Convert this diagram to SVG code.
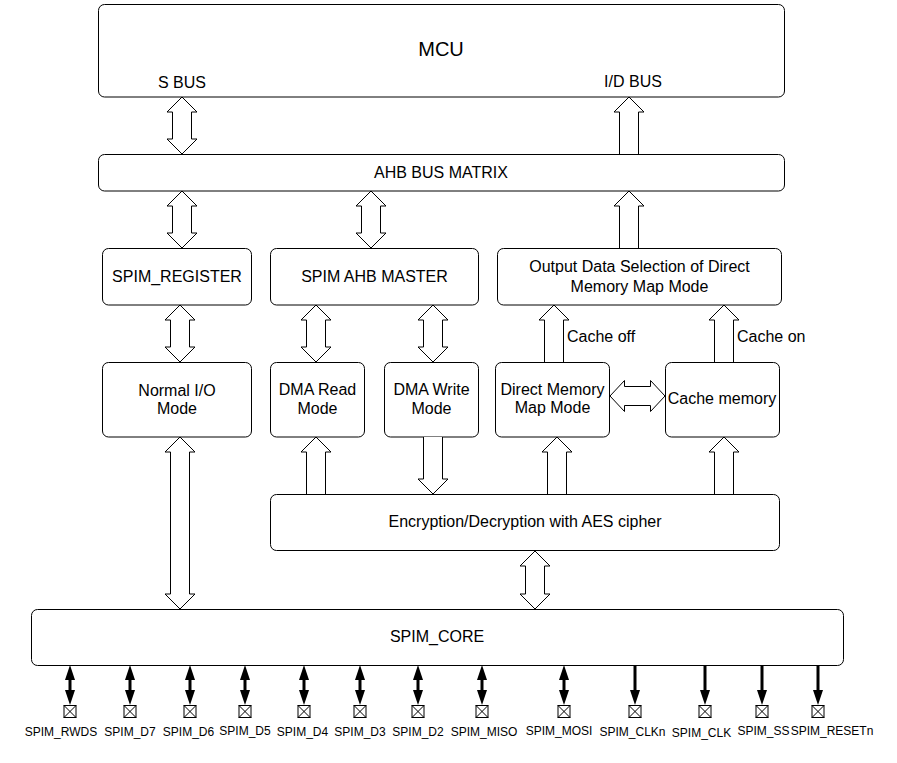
<svg xmlns="http://www.w3.org/2000/svg" width="897" height="763" viewBox="0 0 897 763">
<style>
  .box { fill: #fff; stroke: #000; stroke-width: 1; }
  .t { font-family: "Liberation Sans", Arial, sans-serif; font-size: 16px; fill: #000; text-anchor: middle; }
  .ts { font-family: "Liberation Sans", Arial, sans-serif; font-size: 16px; fill: #000; }
  .big { font-size: 20px; }
  .pl { font-family: "Liberation Sans", Arial, sans-serif; font-size: 12px; fill: #000; text-anchor: middle; }
  .ar { fill: #fff; stroke: #000; stroke-width: 1; stroke-linejoin: miter; }
  .pin { stroke: #000; stroke-width: 3; fill: none; }
  .pad { fill: #fff; stroke: #000; stroke-width: 1; }
</style>
<defs>
  <marker id="ah" markerWidth="15" markerHeight="10" refX="0" refY="5" viewBox="0 0 15 10" orient="auto-start-reverse" markerUnits="userSpaceOnUse">
    <path d="M0 0 L15 5 L0 10 Z" fill="#000"/>
  </marker>
  <g id="padshape">
    <rect class="pad" x="-6" y="0" width="12" height="12"/>
    <path d="M-6 0 L6 12 M6 0 L-6 12" stroke="#000" stroke-width="1"/>
  </g>
</defs>
<rect width="897" height="763" fill="#fff"/>

<g id="mcu">
  <rect class="box" x="98.5" y="4.5" width="686" height="92.5" rx="6"/>
  <text class="t big" x="441" y="56">MCU</text>
  <text class="t" x="182" y="88">S BUS</text>
  <text class="t" x="633" y="87">I/D BUS</text>
</g>
<g id="ahb">
  <rect class="box" x="98.5" y="154.5" width="686" height="36.5" rx="6"/>
  <text class="t" x="441" y="178">AHB BUS MATRIX</text>
</g>
<g id="spim_register">
  <rect class="box" x="102.5" y="248.5" width="149" height="56.5" rx="6"/>
  <text class="t" x="177" y="281.5">SPIM_REGISTER</text>
</g>
<g id="spim_ahb_master">
  <rect class="box" x="270.5" y="248.5" width="208" height="56.5" rx="6"/>
  <text class="t" x="374.5" y="281.5">SPIM AHB MASTER</text>
</g>
<g id="output_sel">
  <rect class="box" x="497.5" y="248.5" width="284" height="56.5" rx="6"/>
  <text class="t" x="639.5" y="272">Output Data Selection of Direct</text>
  <text class="t" x="639.5" y="292">Memory Map Mode</text>
</g>
<g id="normal_io">
  <rect class="box" x="102.5" y="362.5" width="149" height="74.5" rx="6"/>
  <text class="t" x="177" y="395.5">Normal I/O</text>
  <text class="t" x="177" y="414">Mode</text>
</g>
<g id="dma_read">
  <rect class="box" x="270.5" y="362.5" width="94" height="74.5" rx="6"/>
  <text class="t" x="317.5" y="395">DMA Read</text>
  <text class="t" x="317.5" y="414">Mode</text>
</g>
<g id="dma_write">
  <rect class="box" x="384.5" y="362.5" width="94" height="74.5" rx="6"/>
  <text class="t" x="431.5" y="395">DMA Write</text>
  <text class="t" x="431.5" y="414">Mode</text>
</g>
<g id="direct_mm">
  <rect class="box" x="495.5" y="362.5" width="114" height="74.5" rx="6"/>
  <text class="t" x="552.5" y="394.5">Direct Memory</text>
  <text class="t" x="552.5" y="413">Map Mode</text>
</g>
<g id="cache_mem">
  <rect class="box" x="665.5" y="362.5" width="114" height="74.5" rx="6"/>
  <text class="t" x="722" y="403.5">Cache memory</text>
</g>
<g id="aes">
  <rect class="box" x="270.5" y="494.5" width="509" height="56" rx="6"/>
  <text class="t" x="525" y="526.5">Encryption/Decryption with AES cipher</text>
</g>
<g id="spim_core">
  <rect class="box" x="31.5" y="609.5" width="812" height="56" rx="6"/>
  <text class="t" x="437" y="641.5">SPIM_CORE</text>
</g>

<g id="connectors">
  <path class="ar" d="M182 97 L197 112 L191.5 112 L191.5 139 L197 139 L182 154 L167 139 L172.5 139 L172.5 112 L167 112 Z"/>
  <path class="ar" d="M619.5 154 L619.5 112 L614 112 L629 97 L644 112 L638.5 112 L638.5 154"/>
  <path class="ar" d="M182 191 L197 206 L191.5 206 L191.5 233 L197 233 L182 248 L167 233 L172.5 233 L172.5 206 L167 206 Z"/>
  <path class="ar" d="M371 191 L386 206 L380.5 206 L380.5 233 L386 233 L371 248 L356 233 L361.5 233 L361.5 206 L356 206 Z"/>
  <path class="ar" d="M619.5 248 L619.5 206 L614 206 L629 191 L644 206 L638.5 206 L638.5 248"/>
  <path class="ar" d="M180 305 L195 320 L189.5 320 L189.5 347 L195 347 L180 362 L165 347 L170.5 347 L170.5 320 L165 320 Z"/>
  <path class="ar" d="M316 305 L331 320 L325.5 320 L325.5 347 L331 347 L316 362 L301 347 L306.5 347 L306.5 320 L301 320 Z"/>
  <path class="ar" d="M433 305 L448 320 L442.5 320 L442.5 347 L448 347 L433 362 L418 347 L423.5 347 L423.5 320 L418 320 Z"/>
  <path class="ar" d="M544.5 362 L544.5 320 L539 320 L554 305 L569 320 L563.5 320 L563.5 362"/>
  <text class="ts" x="567" y="341.5">Cache off</text>
  <path class="ar" d="M714.5 362 L714.5 320 L709 320 L724 305 L739 320 L733.5 320 L733.5 362"/>
  <text class="ts" x="737" y="341.5">Cache on</text>
  <path class="ar" d="M610 396 L624.5 380.5 L624.5 386.5 L650.5 386.5 L650.5 380.5 L665 396 L650.5 411.5 L650.5 405.5 L624.5 405.5 L624.5 411.5 Z"/>
  <path class="ar" d="M306.5 494 L306.5 452 L301 452 L316 437 L331 452 L325.5 452 L325.5 494"/>
  <path class="ar" d="M423.5 437 L423.5 479 L418 479 L433 494 L448 479 L442.5 479 L442.5 437"/>
  <path class="ar" d="M547.5 494 L547.5 452 L542 452 L557 437 L572 452 L566.5 452 L566.5 494"/>
  <path class="ar" d="M714.5 494 L714.5 452 L709 452 L724 437 L739 452 L733.5 452 L733.5 494"/>
  <path class="ar" d="M180 437 L195 452 L189.5 452 L189.5 594 L195 594 L180 609 L165 594 L170.5 594 L170.5 452 L165 452 Z"/>
  <path class="ar" d="M535 551 L550 566 L544.5 566 L544.5 594 L550 594 L535 609 L520 594 L525.5 594 L525.5 566 L520 566 Z"/>
</g>

<g id="pins">
  <g id="pin_rwds">
    <line class="pin" x1="70" y1="680" x2="70" y2="690" marker-start="url(#ah)" marker-end="url(#ah)"/>
    <use href="#padshape" x="70" y="705.5"/>
    <text class="pl" x="61" y="736">SPIM_RWDS</text>
  </g>
  <g id="pin_d7">
    <line class="pin" x1="130" y1="680" x2="130" y2="690" marker-start="url(#ah)" marker-end="url(#ah)"/>
    <use href="#padshape" x="130" y="705.5"/>
    <text class="pl" x="130" y="736">SPIM_D7</text>
  </g>
  <g id="pin_d6">
    <line class="pin" x1="190" y1="680" x2="190" y2="690" marker-start="url(#ah)" marker-end="url(#ah)"/>
    <use href="#padshape" x="190" y="705.5"/>
    <text class="pl" x="188.5" y="736">SPIM_D6</text>
  </g>
  <g id="pin_d5">
    <line class="pin" x1="245" y1="680" x2="245" y2="690" marker-start="url(#ah)" marker-end="url(#ah)"/>
    <use href="#padshape" x="245" y="705.5"/>
    <text class="pl" x="245" y="735">SPIM_D5</text>
  </g>
  <g id="pin_d4">
    <line class="pin" x1="304" y1="680" x2="304" y2="690" marker-start="url(#ah)" marker-end="url(#ah)"/>
    <use href="#padshape" x="304" y="705.5"/>
    <text class="pl" x="302.5" y="736">SPIM_D4</text>
  </g>
  <g id="pin_d3">
    <line class="pin" x1="360" y1="680" x2="360" y2="690" marker-start="url(#ah)" marker-end="url(#ah)"/>
    <use href="#padshape" x="360" y="705.5"/>
    <text class="pl" x="360" y="736">SPIM_D3</text>
  </g>
  <g id="pin_d2">
    <line class="pin" x1="418" y1="680" x2="418" y2="690" marker-start="url(#ah)" marker-end="url(#ah)"/>
    <use href="#padshape" x="418" y="705.5"/>
    <text class="pl" x="418" y="736">SPIM_D2</text>
  </g>
  <g id="pin_miso">
    <line class="pin" x1="482" y1="680" x2="482" y2="690" marker-start="url(#ah)" marker-end="url(#ah)"/>
    <use href="#padshape" x="482" y="705.5"/>
    <text class="pl" x="484" y="736">SPIM_MISO</text>
  </g>
  <g id="pin_mosi">
    <line class="pin" x1="564" y1="680" x2="564" y2="690" marker-start="url(#ah)" marker-end="url(#ah)"/>
    <use href="#padshape" x="564" y="705.5"/>
    <text class="pl" x="559" y="735">SPIM_MOSI</text>
  </g>
  <g id="pin_clkn">
    <line class="pin" x1="635" y1="665.5" x2="635" y2="690" marker-end="url(#ah)"/>
    <use href="#padshape" x="635" y="705.5"/>
    <text class="pl" x="632.5" y="736">SPIM_CLKn</text>
  </g>
  <g id="pin_clk">
    <line class="pin" x1="705" y1="665.5" x2="705" y2="690" marker-end="url(#ah)"/>
    <use href="#padshape" x="705" y="705.5"/>
    <text class="pl" x="701.5" y="737">SPIM_CLK</text>
  </g>
  <g id="pin_ss">
    <line class="pin" x1="762" y1="665.5" x2="762" y2="690" marker-end="url(#ah)"/>
    <use href="#padshape" x="762" y="705.5"/>
    <text class="pl" x="763.5" y="735">SPIM_SS</text>
  </g>
  <g id="pin_resetn">
    <line class="pin" x1="818" y1="665.5" x2="818" y2="690" marker-end="url(#ah)"/>
    <use href="#padshape" x="818" y="705.5"/>
    <text class="pl" x="832" y="735">SPIM_RESETn</text>
  </g>
</g>
</svg>
